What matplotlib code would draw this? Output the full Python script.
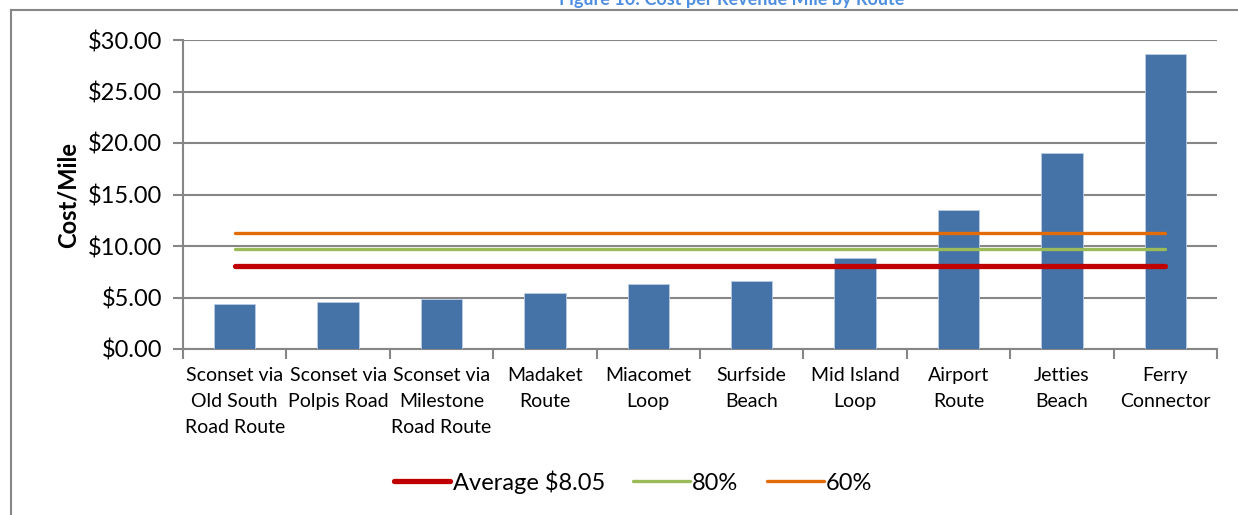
import matplotlib
matplotlib.use("Agg")
import matplotlib.pyplot as plt
from matplotlib.lines import Line2D

routes = ["Sconset via\nOld South\nRoad Route", "Sconset via\nPolpis Road", "Sconset via\nMilestone\nRoad Route",
          "Madaket\nRoute", "Miacomet\nLoop", "Surfside\nBeach", "Mid Island\nLoop", "Airport\nRoute",
          "Jetties\nBeach", "Ferry\nConnector"]
cost_per_mile = [4.35, 4.57, 4.88, 5.43, 6.30, 6.62, 8.82, 13.50, 18.99, 28.60]
average = 8.05
pct80 = 9.68
pct60 = 11.30
yticks = [0, 5, 10, 15, 20, 25, 30]
ytick_labels = ["$0.00", "$5.00", "$10.00", "$15.00", "$20.00", "$25.00", "$30.00"]

plt.rcParams['font.family'] = ['Lato', 'DejaVu Sans']

fig = plt.figure(figsize=(12.38, 5.15), dpi=100)
ax = fig.add_axes([183/1238, 1-349/515, (1217-183)/1238, (349-40)/515])

x = list(range(len(routes)))
ax.bar(x, cost_per_mile, width=0.4, color="#4572A7", edgecolor="#B9CDE5", linewidth=0.6, zorder=3)
n = len(routes)
ax.plot(x, [average]*n, color="#C00000", lw=3.8, solid_capstyle="round", zorder=4, label="Average $8.05")
ax.plot(x, [pct80]*n, color="#9BBB59", lw=2.4, solid_capstyle="round", zorder=4, label="80%")
ax.plot(x, [pct60]*n, color="#E36C09", lw=2.4, solid_capstyle="round", zorder=4, label="60%")

ax.set_xlim(-0.5, n - 0.5)
ax.set_ylim(0, 30)
ax.set_yticks(yticks)
ax.set_yticklabels(ytick_labels, fontsize=17)
ax.set_xticks([i + 0.5 for i in range(-1, n)], minor=False)
ax.set_xticklabels([])
ax.set_xticks(x, minor=True)
ax.set_xticklabels(routes, minor=True, fontsize=14, linespacing=1.65)
ax.tick_params(axis="x", which="minor", length=0, pad=13)
ax.tick_params(axis="x", which="major", length=7, width=1.5, color="#868686", direction="out")
ax.tick_params(axis="y", length=7, width=1.5, color="#868686", direction="out", pad=8)
for lab in ax.get_xticklabels(minor=True):
    lab.set_verticalalignment("top")

ax.grid(axis="y", color="#868686", lw=1.5, zorder=0)
ax.set_axisbelow(True)
for s in ["top", "right"]:
    ax.spines[s].set_visible(False)
for s in ["left", "bottom"]:
    ax.spines[s].set_color("#868686")
    ax.spines[s].set_linewidth(1.5)

ax.set_ylabel("Cost/Mile", fontsize=17, fontweight="bold", labelpad=6)

leg = fig.legend(loc="center", bbox_to_anchor=(633/1238, 1-482/515), ncol=3, frameon=False,
                 fontsize=17, handlelength=2.4, handletextpad=0.1, columnspacing=1.2)

fig.text(732/1238, 1.0, "Figure 10: Cost per Revenue Mile by Route", ha="center", va="center",
         fontsize=13, fontweight="bold", color="#4F8FE0")

fig.add_artist(Line2D([11/1238, 11/1238], [0, 1-10/515], color="#868686", lw=1.5, transform=fig.transFigure))
fig.add_artist(Line2D([11/1238, 1], [1-10/515, 1-10/515], color="#868686", lw=1.5, transform=fig.transFigure))

fig.savefig("out.png", dpi=100)
